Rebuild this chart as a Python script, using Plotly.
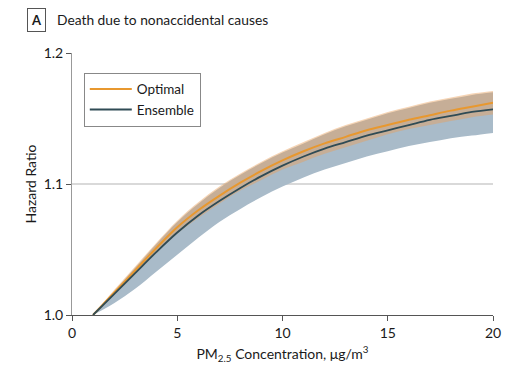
import plotly.graph_objects as go

# Data
pm = [1, 2, 3, 4, 5, 6, 7, 8, 9, 10, 11, 12, 13, 14, 15, 16, 17, 18, 19, 20]

optimal_hr = [1.000, 1.017, 1.034, 1.051, 1.067, 1.080, 1.091, 1.101, 1.110, 1.118,
              1.125, 1.131, 1.136, 1.141, 1.145, 1.149, 1.1525, 1.156, 1.159, 1.162]
optimal_upper = [1.000, 1.019, 1.037, 1.055, 1.072, 1.086, 1.098, 1.108, 1.117, 1.125,
                 1.132, 1.139, 1.145, 1.150, 1.155, 1.159, 1.163, 1.166, 1.169, 1.171]
optimal_lower = [1.000, 1.015, 1.031, 1.047, 1.062, 1.074, 1.085, 1.095, 1.103, 1.111,
                 1.117, 1.123, 1.128, 1.133, 1.138, 1.142, 1.145, 1.148, 1.151, 1.153]

ensemble_hr = [1.000, 1.016, 1.032, 1.048, 1.063, 1.076, 1.087, 1.097, 1.106, 1.114,
               1.121, 1.127, 1.132, 1.137, 1.141, 1.145, 1.149, 1.152, 1.155, 1.157]
ensemble_upper = [1.000, 1.018, 1.036, 1.054, 1.071, 1.085, 1.097, 1.107, 1.116, 1.124,
                  1.131, 1.138, 1.144, 1.149, 1.154, 1.158, 1.162, 1.165, 1.168, 1.170]
ensemble_lower = [1.000, 1.009, 1.020, 1.033, 1.046, 1.059, 1.071, 1.081, 1.090, 1.098,
                  1.105, 1.111, 1.116, 1.121, 1.125, 1.129, 1.132, 1.135, 1.137, 1.139]

x_ticks = [0, 5, 10, 15, 20]
y_ticks = [1.0, 1.1, 1.2]
y_tick_labels = ["1.0", "1.1", "1.2"]

FONT = "Lato"
ORANGE = "#E8982F"
DARK = "#2F4B55"
BLUE_FILL = "rgb(169,187,201)"
ORANGE_FILL = "rgba(232,160,90,0.45)"
TEXT = "#1a1a1a"

fig = go.Figure()

# Ensemble CI band
fig.add_trace(go.Scatter(x=pm, y=ensemble_lower, mode="lines", line=dict(width=0, shape="spline"),
                         showlegend=False, hoverinfo="skip"))
fig.add_trace(go.Scatter(x=pm, y=ensemble_upper, mode="lines", line=dict(width=0, shape="spline"),
                         fill="tonexty", fillcolor=BLUE_FILL, showlegend=False, hoverinfo="skip"))
# Optimal CI band
fig.add_trace(go.Scatter(x=pm, y=optimal_lower, mode="lines", line=dict(width=0, shape="spline"),
                         showlegend=False, hoverinfo="skip"))
fig.add_trace(go.Scatter(x=pm, y=optimal_upper, mode="lines", line=dict(width=0, shape="spline"),
                         fill="tonexty", fillcolor=ORANGE_FILL, showlegend=False, hoverinfo="skip"))

# Lines
fig.add_trace(go.Scatter(x=pm, y=optimal_hr, mode="lines", name="Optimal",
                         line=dict(color=ORANGE, width=2, shape="spline")))
fig.add_trace(go.Scatter(x=pm, y=ensemble_hr, mode="lines", name="Ensemble",
                         line=dict(color=DARK, width=1.8, shape="spline")))

fig.update_layout(
    width=523, height=375,
    margin=dict(l=64, r=38, t=45, b=68),
    paper_bgcolor="white", plot_bgcolor="white",
    font=dict(family=FONT, size=13, color=TEXT),
    showlegend=True,
    legend=dict(x=0.028, y=0.925, xanchor="left", yanchor="top", traceorder="normal",
                bgcolor="white", bordercolor="#888", borderwidth=1,
                font=dict(family=FONT, size=13.5, color=TEXT),
                tracegroupgap=0, itemwidth=42),
    xaxis=dict(range=[0, 20], tickvals=x_ticks, ticktext=[str(v) for v in x_ticks],
               showgrid=False, zeroline=False, showline=True, linecolor="#555", linewidth=1,
               ticks="outside", ticklen=5, tickcolor="#555",
               tickfont=dict(family=FONT, size=14, color=TEXT),
               title=dict(text="PM<sub>2.5</sub> Concentration, μg/m<sup>3</sup>",
                          font=dict(family=FONT, size=14, color=TEXT), standoff=9)),
    yaxis=dict(range=[1.0, 1.2], tickvals=y_ticks, ticktext=y_tick_labels,
               showgrid=True, gridcolor="#d9d9d9", gridwidth=1.5, zeroline=False,
               showline=True, linecolor="#999", linewidth=1,
               ticks="outside", ticklen=5, tickcolor="#555",
               tickfont=dict(family=FONT, size=14, color=TEXT),
               title=dict(text="Hazard Ratio", font=dict(family=FONT, size=14, color=TEXT),
                          standoff=3)),
    annotations=[
        dict(text="<b>A</b>", xref="paper", yref="paper", x=-0.107, y=1.126,
             xanchor="left", yanchor="middle", showarrow=False,
             font=dict(family=FONT, size=13, color=TEXT),
             bordercolor="#555", borderwidth=1, borderpad=3, bgcolor="white"),
        dict(text="Death due to nonaccidental causes", xref="paper", yref="paper",
             x=-0.040, y=1.126, xanchor="left", yanchor="middle", showarrow=False,
             font=dict(family=FONT, size=13.8, color=TEXT)),
    ],
)

fig.write_html("out.html")
